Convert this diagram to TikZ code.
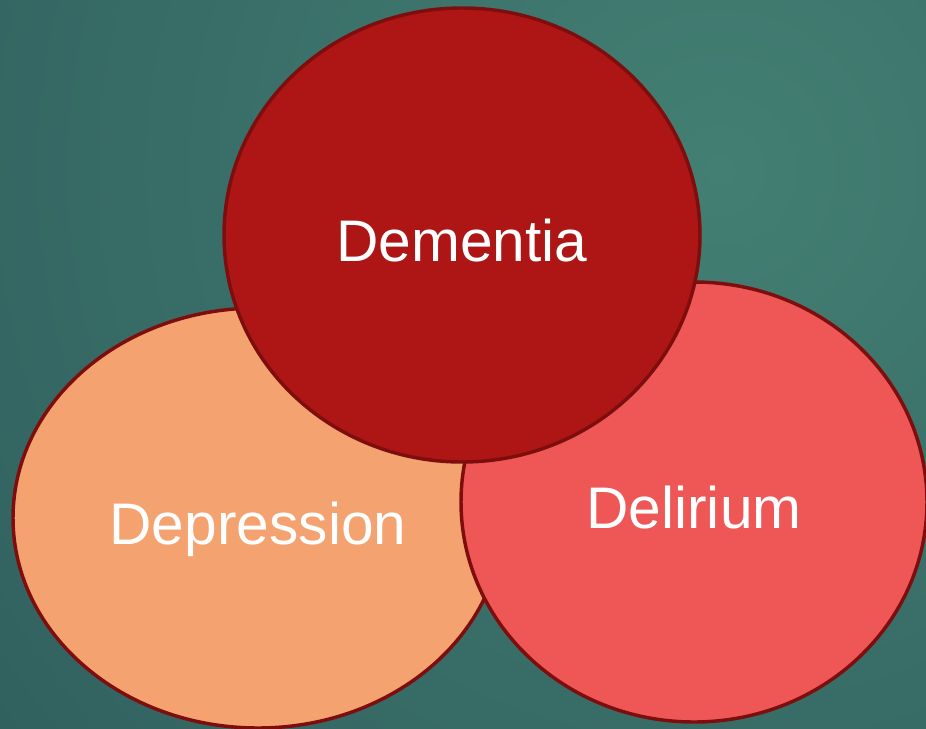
\documentclass[tikz,border=0pt]{standalone}
\usepackage{fontspec}
\setmainfont{Liberation Sans}
\usetikzlibrary{shapes.geometric, positioning}

\definecolor{bgdark}{HTML}{21474E}
\definecolor{bglight}{HTML}{437F73}
\definecolor{rimred}{HTML}{7E0E0E}
\definecolor{peach}{HTML}{F4A26F}
\definecolor{coral}{HTML}{EF5757}
\definecolor{crimson}{HTML}{AE1515}

\begin{document}
\begin{tikzpicture}[x=0.75pt, y=-0.75pt,
  every node/.style={font=\fontsize{44}{50}\selectfont, text=white},
  blob/.style={draw=rimred, line width=2.6pt, ellipse, inner sep=0pt, text height=40pt, text depth=0pt}]
  \useasboundingbox (0,0) rectangle (926,729);
  \clip (0,0) rectangle (926,729);
  % background
  \shade[inner color=bglight, outer color=bgdark] (720,170) circle (1700);

  \node (depression) [blob, fill=peach, minimum width=367.5pt, minimum height=315pt] at (258,518) {Depression};
  \node (delirium) [blob, fill=coral, minimum width=349.5pt, minimum height=330pt] at (694,502) {Delirium};
  \node (dementia) [blob, fill=crimson, minimum width=357pt, minimum height=340.5pt] at (462,235) {Dementia};
\end{tikzpicture}
\end{document}
